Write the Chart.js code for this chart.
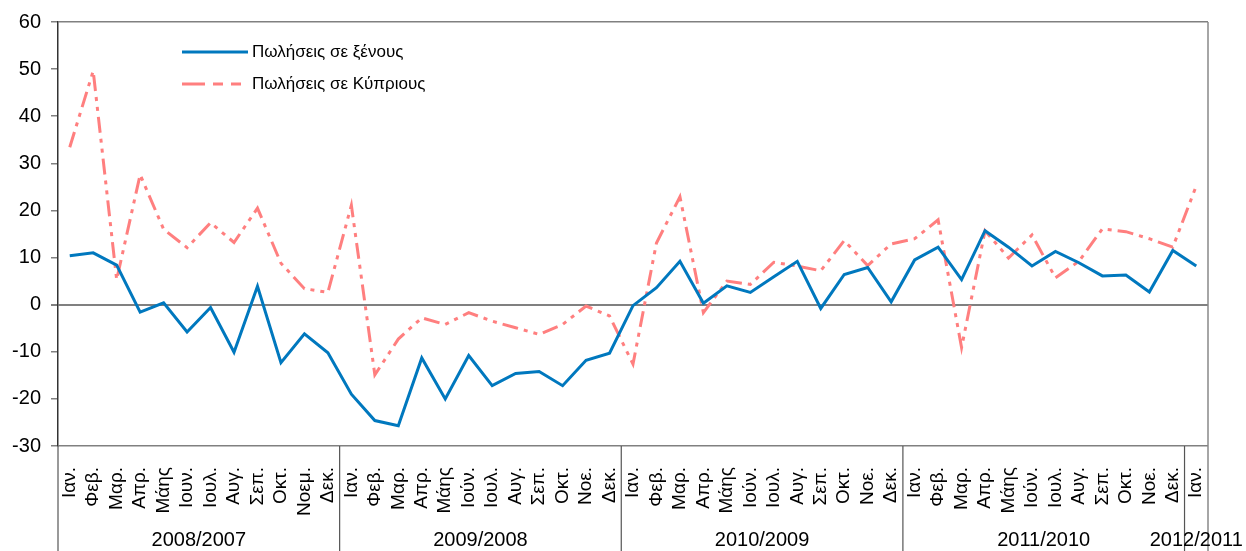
<!DOCTYPE html>
<html>
<head>
<meta charset="utf-8">
<script src="https://cdn.jsdelivr.net/npm/chart.js@4"></script>
<style>
  html, body { margin: 0; padding: 0; background: #fff; }
  #wrap { width: 1246px; height: 551px; position: relative; }
</style>
</head>
<body>
<div id="wrap"><canvas id="c" width="1246" height="551"></canvas></div>
<script>
const categories = [
  'Ιαν.','Φεβ.','Μαρ.','Απρ.','Μάης','Ιουν.','Ιουλ.','Αυγ.','Σεπ.','Οκτ.','Νοεμ.','Δεκ.',
  'Ιαν.','Φεβ.','Μαρ.','Απρ.','Μάης','Ιούν.','Ιουλ.','Αυγ.','Σεπ.','Οκτ.','Νοε.','Δεκ.',
  'Ιαν.','Φεβ.','Μαρ.','Απρ.','Μάης','Ιούν.','Ιουλ.','Αυγ.','Σεπ.','Οκτ.','Νοε.','Δεκ.',
  'Ιαν.','Φεβ.','Μαρ.','Απρ.','Μάης','Ιούν.','Ιουλ.','Αυγ.','Σεπ.','Οκτ.','Νοε.','Δεκ.',
  'Ιαν.'
];
const groupLabels = ['2008/2007','2009/2008','2010/2009','2011/2010','2012/2011'];
const groupSizes = [12, 12, 12, 12, 1];
const seriesNames = ['Πωλήσεις σε ξένους', 'Πωλήσεις σε Κύπριους'];
const foreignSales = [
  10.4, 11.0, 8.4, -1.6, 0.4, -5.8, -0.6, -10.1, 3.9, -12.3, -6.2, -10.2,
  -19.0, -24.6, -25.7, -11.3, -20.0, -10.8, -17.2, -14.6, -14.2, -17.2, -11.8, -10.3,
  -0.2, 3.6, 9.2, 0.3, 4.0, 2.6, 5.9, 9.2, -0.8, 6.4, 7.9, 0.6,
  9.5, 12.2, 5.3, 15.7, 12.2, 8.2, 11.3, 8.9, 6.1, 6.3, 2.7, 11.5,
  8.2
];
const cypriotSales = [
  33.4, 49.6, 5.3, 27.6, 16.0, 12.1, 17.4, 13.2, 20.5, 8.8, 3.4, 2.6,
  21.1, -14.9, -7.3, -2.8, -4.2, -1.7, -3.5, -4.9, -6.3, -4.2, -0.3, -2.4,
  -12.6, 13.1, 22.9, -1.7, 5.0, 4.3, 9.0, 8.2, 7.2, 13.6, 8.3, 12.9,
  14.0, 18.0, -9.1, 15.7, 9.9, 14.8, 5.7, 9.2, 16.1, 15.5, 14.0, 12.2,
  25.2
];
const yMin = -30, yMax = 60, yStep = 10;

const BLUE = '#0078BE';
const PINK = '#FF7F7F';
const FONT = '"Liberation Sans", Arial, sans-serif';

const decorPlugin = {
  id: 'decor',
  afterDraw(chart) {
    const ctx = chart.ctx;
    const area = chart.chartArea;
    const xs = chart.scales.x;
    const H = chart.height;
    ctx.save();
    ctx.strokeStyle = '#888';
    ctx.lineWidth = 1.5;
    ctx.beginPath();
    ctx.moveTo(area.right, area.top);
    ctx.lineTo(area.right, H);
    ctx.stroke();
    ctx.strokeStyle = '#555';
    ctx.lineWidth = 1.2;
    ctx.beginPath();
    ctx.moveTo(area.left, area.bottom);
    ctx.lineTo(area.left, H);
    ctx.stroke();
    let idx = 0;
    let prevX = area.left;
    ctx.font = '20px ' + FONT;
    ctx.fillStyle = '#000';
    ctx.textAlign = 'center';
    ctx.textBaseline = 'middle';
    groupSizes.forEach((n, g) => {
      const last = idx + n - 1;
      let sepX;
      if (last + 1 < categories.length) {
        sepX = (xs.getPixelForValue(last) + xs.getPixelForValue(last + 1)) / 2;
        ctx.strokeStyle = '#555';
        ctx.beginPath();
        ctx.moveTo(sepX, area.bottom);
        ctx.lineTo(sepX, H);
        ctx.stroke();
      } else {
        sepX = area.right;
      }
      ctx.fillText(groupLabels[g], (prevX + sepX) / 2, 540);
      prevX = sepX;
      idx += n;
    });
    const lx1 = 182, lx2 = 248;
    const entries = [
      { y: 52, color: BLUE, dash: [], name: seriesNames[0] },
      { y: 84, color: PINK, dash: [23, 8, 10, 8, 10, 8], name: seriesNames[1] }
    ];
    ctx.font = '17px ' + FONT;
    ctx.textAlign = 'left';
    ctx.textBaseline = 'middle';
    entries.forEach(e => {
      ctx.strokeStyle = e.color;
      ctx.lineWidth = 3;
      ctx.setLineDash(e.dash);
      ctx.beginPath();
      ctx.moveTo(lx1, e.y);
      ctx.lineTo(lx2, e.y);
      ctx.stroke();
      ctx.setLineDash([]);
      ctx.fillStyle = '#000';
      ctx.fillText(e.name, 252, e.y);
    });
    ctx.restore();
  }
};

new Chart(document.getElementById('c'), {
  type: 'line',
  data: {
    labels: categories,
    datasets: [
      {
        label: seriesNames[0],
        data: foreignSales,
        borderColor: BLUE,
        borderWidth: 3,
        pointRadius: 0,
        tension: 0,
        fill: false
      },
      {
        label: seriesNames[1],
        data: cypriotSales,
        borderColor: PINK,
        borderWidth: 3,
        borderDash: [16, 6, 4, 6, 4, 6],
        pointRadius: 0,
        tension: 0,
        fill: false
      }
    ]
  },
  options: {
    responsive: false,
    animation: false,
    devicePixelRatio: 1,
    layout: { padding: { top: 20, right: 38, bottom: 0, left: 0 } },
    plugins: { legend: { display: false }, tooltip: { enabled: false } },
    scales: {
      x: {
        type: 'category',
        offset: true,
        grid: { display: false },
        border: { display: false },
        ticks: {
          autoSkip: false,
          maxRotation: 90,
          minRotation: 90,
          padding: 13,
          color: '#000',
          font: { family: FONT, size: 19 }
        },
        afterFit(scale) { scale.height = 105; }
      },
      y: {
        min: yMin,
        max: yMax,
        ticks: {
          stepSize: yStep,
          color: '#000',
          padding: 10,
          font: { family: FONT, size: 20 }
        },
        grid: {
          color: (c) => (c.tick && (c.tick.value === 0 || c.tick.value === yMin || c.tick.value === yMax)) ? '#808080' : 'rgba(0,0,0,0)',
          lineWidth: (c) => (c.tick && c.tick.value === 0) ? 2 : 1.5,
          tickColor: '#808080',
          tickLength: 7,
          drawTicks: true
        },
        border: { display: true, color: '#333', width: 1.5 },
        afterFit(scale) { scale.width = 58; }
      }
    }
  },
  plugins: [decorPlugin]
});
</script>
</body>
</html>
